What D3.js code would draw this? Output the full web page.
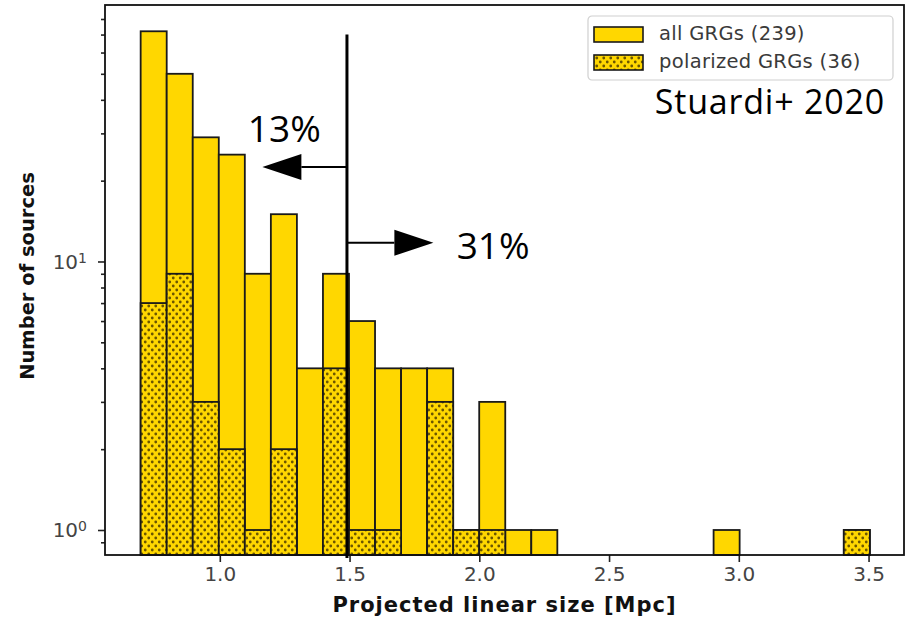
<!DOCTYPE html>
<html>
<head>
<meta charset="utf-8">
<script src="https://cdn.jsdelivr.net/npm/d3@7"></script>
<style>
  body { margin: 0; background: #fff; }
</style>
</head>
<body>
<div id="d1"></div>
<script>
// histogram bins (matplotlib style: 28 equal bins between min and max size)
const binLo = 0.695;
const binHi = 3.505;
const nBins = 28;

// counts per bin
const allCounts = [72, 50, 29, 25, 9, 15, 4, 9, 6, 4, 4, 4, 1, 3, 1, 1, 0, 0, 0, 0, 0, 0, 1, 0, 0, 0, 0, 1];
const polCounts = [7, 9, 3, 2, 1, 2, 0, 4, 1, 1, 0, 3, 1, 1, 0, 0, 0, 0, 0, 0, 0, 0, 0, 0, 0, 0, 0, 1];

const seriesNames = ["all GRGs (239)", "polarized GRGs (36)"];
const xTicks = [1.0, 1.5, 2.0, 2.5, 3.0, 3.5];
const yMajor = [1, 10];
const yMinor = [0.9, 2, 3, 4, 5, 6, 7, 8, 9, 20, 30, 40, 50, 60, 70, 80];

// annotation: size cut and the fractions either side of it
const cutSize = 1.49;
const cutTop = 70;
const cutBottom = 0.787;
const arrows = [
    {y: 22.5, to: 1.164, label: "13%", lx: 1.108, ly: 27.9},
    {y: 11.75, to: 1.823, label: "31%", lx: 1.913, ly: 10.2}
];
const credit = "Stuardi+ 2020";

function d1() {
    const W = 911, H = 617;
    const plot = {l: 105, r: 904, t: 5, b: 555};
    const gold = "#ffd700";
    const edge = "#1a1a1a";

    let svg = d3.select("#d1")
        .append("svg")
        .attr("width", W)
        .attr("height", H)
        .style("font-family", "'DejaVu Sans', sans-serif");
    svg.append("rect").attr("width", W).attr("height", H).attr("fill", "#fff");

    // dotted hatch
    let pat = svg.append("defs").append("pattern")
        .attr("id", "dots")
        .attr("patternUnits", "userSpaceOnUse")
        .attr("width", 7).attr("height", 8);
    pat.append("rect").attr("width", 7).attr("height", 8).attr("fill", gold);
    pat.append("circle").attr("cx", 1.75).attr("cy", 2).attr("r", 1.4).attr("fill", "#6b5600");
    pat.append("circle").attr("cx", 5.25).attr("cy", 6).attr("r", 1.4).attr("fill", "#6b5600");

    let scaleX = d3.scaleLinear().domain([0.5576, 3.6366]).range([plot.l, plot.r]);
    let scaleY = d3.scaleLog().domain([0.807, 90.2]).range([plot.b, plot.t]);

    const step = (binHi - binLo) / nBins;
    let bins = allCounts.map(function(c, i) {
        return {x0: binLo + i * step, x1: binLo + (i + 1) * step, all: c, pol: polCounts[i]};
    });

    let graph = svg.append("g").attr("class", "graph");

    // bars: all sources
    graph.selectAll(".barAll")
        .data(bins.filter(d => d.all > 0))
        .enter().append("rect")
        .attr("class", "barAll")
        .attr("x", d => scaleX(d.x0))
        .attr("width", d => scaleX(d.x1) - scaleX(d.x0))
        .attr("y", d => scaleY(d.all))
        .attr("height", d => plot.b - scaleY(d.all))
        .attr("fill", gold)
        .attr("stroke", edge)
        .attr("stroke-width", 1.8);

    // bars: polarized sources
    graph.selectAll(".barPol")
        .data(bins.filter(d => d.pol > 0))
        .enter().append("rect")
        .attr("class", "barPol")
        .attr("x", d => scaleX(d.x0))
        .attr("width", d => scaleX(d.x1) - scaleX(d.x0))
        .attr("y", d => scaleY(d.pol))
        .attr("height", d => plot.b - scaleY(d.pol))
        .attr("fill", "url(#dots)")
        .attr("stroke", edge)
        .attr("stroke-width", 1.8);

    // axes
    let axisX = d3.axisBottom(scaleX).tickValues(xTicks).tickSize(7).tickPadding(5).tickFormat(d3.format(".1f"));
    let gx = svg.append("g").attr("transform", `translate(0,${plot.b})`).call(axisX);
    let axisYmin = d3.axisLeft(scaleY).tickValues(yMinor).tickSize(4).tickFormat("");
    let gym = svg.append("g").attr("transform", `translate(${plot.l},0)`).call(axisYmin);
    let axisY = d3.axisLeft(scaleY).tickValues(yMajor).tickSize(7).tickPadding(6).tickFormat("");
    let gy = svg.append("g").attr("transform", `translate(${plot.l},0)`).call(axisY);
    [gx, gym, gy].forEach(function(g) {
        g.select(".domain").remove();
        g.selectAll(".tick line").attr("stroke", "#222").attr("stroke-width", 1.6);
    });
    gx.selectAll(".tick text")
        .attr("font-size", 20)
        .attr("fill", "#444")
        .attr("font-family", "'DejaVu Sans', sans-serif");

    // 10^n labels
    gy.selectAll(".tick").each(function(d) {
        let t = d3.select(this).append("text")
            .attr("x", -18)
            .attr("dy", "0.35em")
            .attr("text-anchor", "end")
            .attr("fill", "#444")
            .attr("font-size", 20)
            .attr("font-family", "'DejaVu Sans', sans-serif");
        t.append("tspan").text("10");
        t.append("tspan").attr("dy", "-0.45em").attr("font-size", 14).text(Math.round(Math.log10(d)));
    });

    // frame
    svg.append("rect")
        .attr("x", plot.l).attr("y", plot.t)
        .attr("width", plot.r - plot.l).attr("height", plot.b - plot.t)
        .attr("fill", "none").attr("stroke", "#111").attr("stroke-width", 1.8);

    // axis titles
    svg.append("text")
        .attr("x", (plot.l + plot.r) / 2)
        .attr("y", 612)
        .attr("text-anchor", "middle")
        .attr("font-weight", "bold")
        .attr("font-size", 21)
        .attr("letter-spacing", 1)
        .attr("fill", "#111")
        .text("Projected linear size [Mpc]");
    svg.append("text")
        .attr("transform", `translate(34,${(plot.t + plot.b) / 2 - 4}) rotate(-90)`)
        .attr("text-anchor", "middle")
        .attr("font-weight", "bold")
        .attr("font-size", 19.5)
        .attr("fill", "#111")
        .text("Number of sources");

    // legend
    let legend = svg.append("g").attr("transform", "translate(588,16)");
    legend.append("rect")
        .attr("width", 305).attr("height", 64).attr("rx", 4)
        .attr("fill", "#fff").attr("stroke", "#d0d0d0").attr("stroke-width", 1.2);
    seriesNames.forEach(function(name, i) {
        legend.append("rect")
            .attr("x", 6).attr("y", 11 + i * 28)
            .attr("width", 49).attr("height", 15)
            .attr("fill", i === 0 ? gold : "url(#dots)")
            .attr("stroke", edge).attr("stroke-width", 1.6);
        legend.append("text")
            .attr("x", 71).attr("y", 24 + i * 28)
            .attr("font-size", 19.5)
            .attr("letter-spacing", 0.3)
            .attr("fill", "#3a3a3a")
            .text(name);
    });

    // annotation
    let ann = svg.append("g").attr("class", "annotation");
    ann.append("line")
        .attr("x1", scaleX(cutSize)).attr("x2", scaleX(cutSize))
        .attr("y1", scaleY(cutTop)).attr("y2", scaleY(cutBottom))
        .attr("stroke", "#000").attr("stroke-width", 3);
    const headLen = 39, headHalf = 13;
    arrows.forEach(function(a) {
        let x0 = scaleX(cutSize), xt = scaleX(a.to), y = scaleY(a.y);
        let dir = xt > x0 ? 1 : -1;
        let xb = xt - dir * headLen;
        ann.append("line")
            .attr("x1", x0).attr("x2", xb)
            .attr("y1", y).attr("y2", y)
            .attr("stroke", "#000").attr("stroke-width", 2);
        ann.append("path")
            .attr("d", `M${xt},${y} L${xb},${y - headHalf} L${xb},${y + headHalf} Z`)
            .attr("fill", "#000");
        ann.append("text")
            .attr("x", scaleX(a.lx)).attr("y", scaleY(a.ly))
            .attr("font-family", "'Open Sans', sans-serif")
            .attr("font-size", 37)
            .attr("fill", "#000")
            .text(a.label);
    });
    ann.append("text")
        .attr("x", 885).attr("y", 114)
        .attr("text-anchor", "end")
        .attr("font-family", "'Open Sans', sans-serif")
        .attr("font-size", 34)
        .attr("letter-spacing", 0.8)
        .attr("fill", "#000")
        .text(credit);
}
d1();
</script>
</body>
</html>
